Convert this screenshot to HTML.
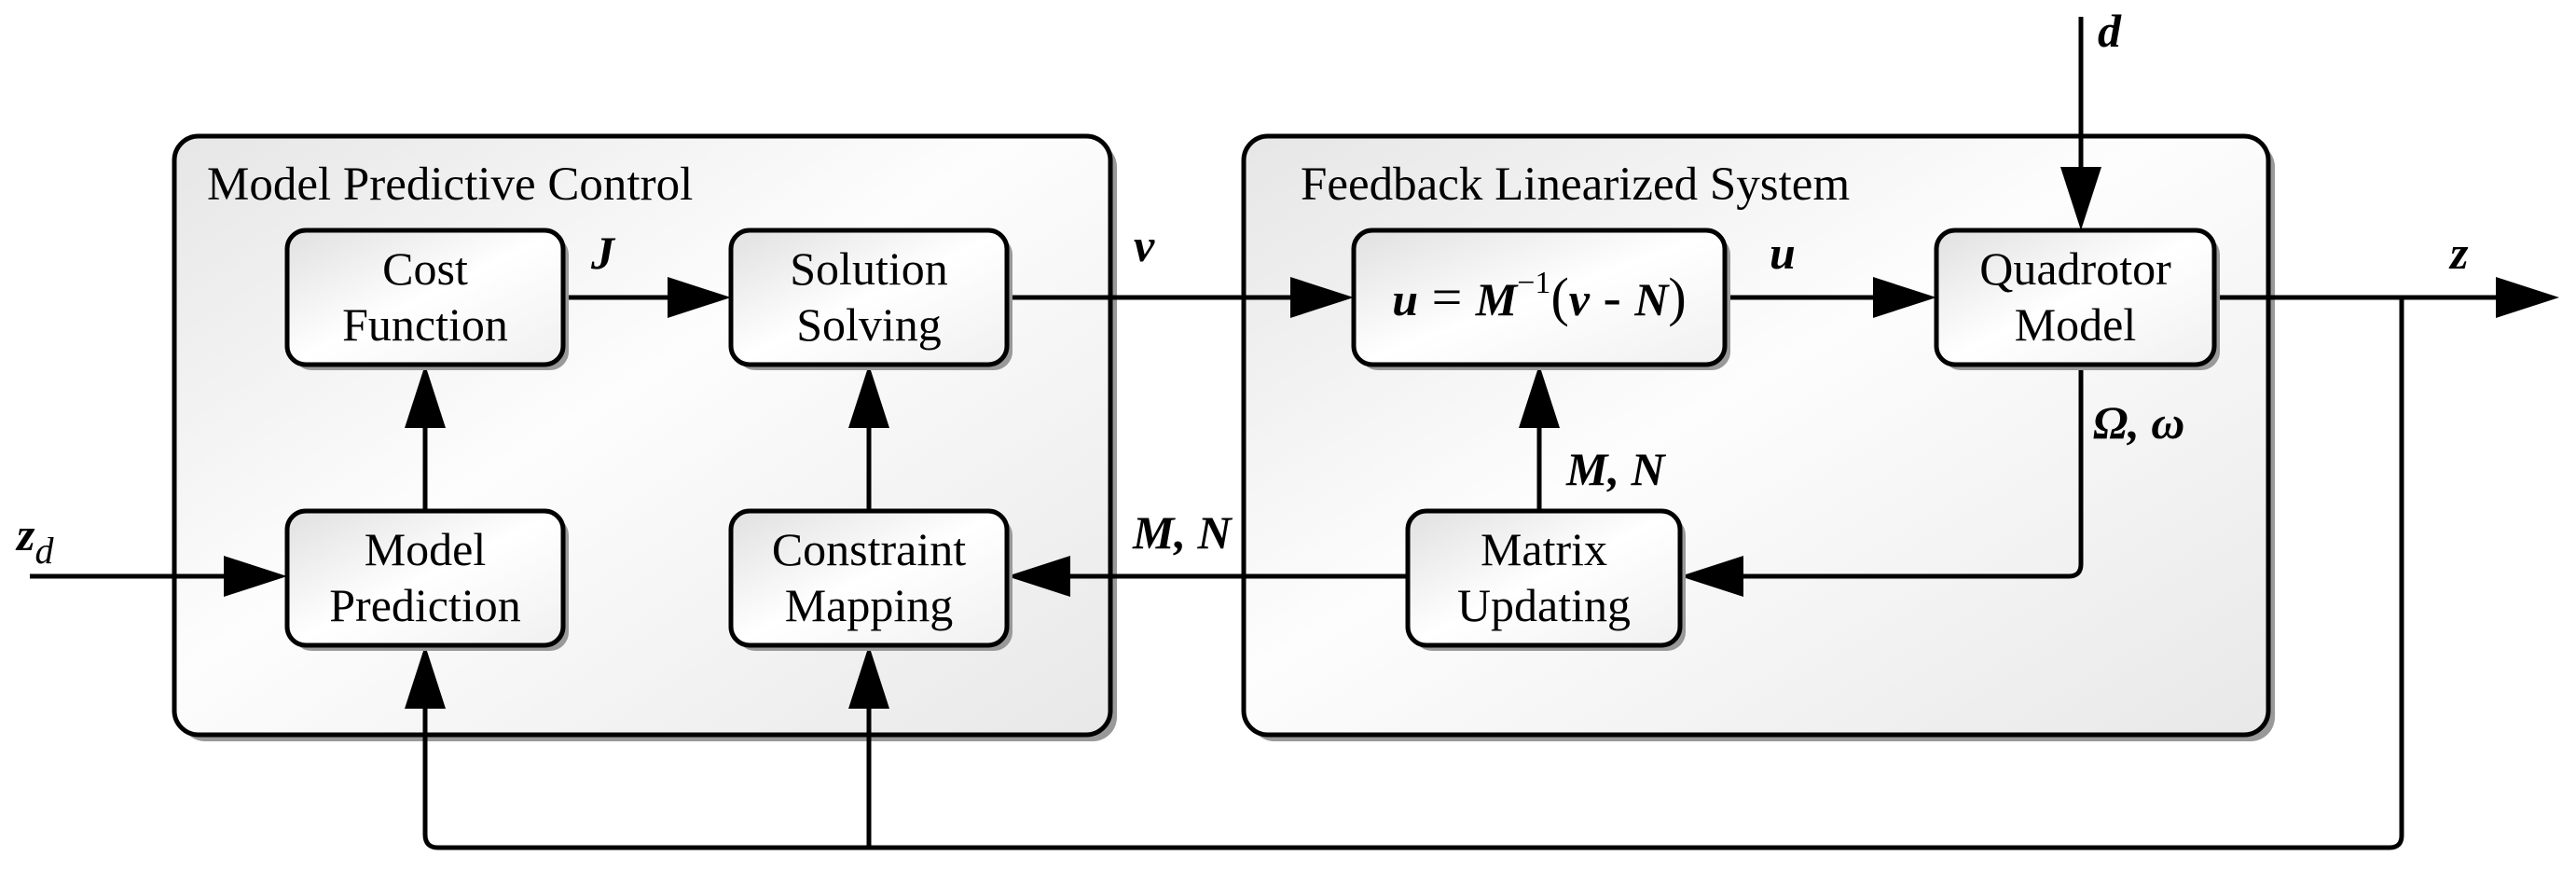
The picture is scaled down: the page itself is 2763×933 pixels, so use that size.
<!DOCTYPE html>
<html><head><meta charset="utf-8"><style>
html,body{margin:0;padding:0;background:#fff;}
svg{display:block;}
text{font-family:"Liberation Serif","DejaVu Serif",serif;fill:#000;}
.b{font-size:50px;text-anchor:middle;}
.m{font-style:italic;font-weight:bold;font-size:50px;}
</style></head><body>
<svg width="2763" height="933" viewBox="0 0 2763 933" xmlns="http://www.w3.org/2000/svg">
<defs>
<linearGradient id="g1" x1="0" y1="0" x2="1" y2="1"><stop offset="0" stop-color="#e6e6e6"/><stop offset="0.45" stop-color="#fdfdfd"/><stop offset="1" stop-color="#e8e8e8"/></linearGradient>
<linearGradient id="g2" x1="0" y1="0" x2="1" y2="1"><stop offset="0" stop-color="#e0e0e0"/><stop offset="0.5" stop-color="#ffffff"/><stop offset="1" stop-color="#f0f0f0"/></linearGradient>
</defs>
<rect x="194" y="153" width="1004" height="642" rx="26" fill="#999"/>
<rect x="187" y="146" width="1004" height="642" rx="26" fill="url(#g1)" stroke="#000" stroke-width="5"/>
<rect x="1341" y="153" width="1099" height="642" rx="26" fill="#999"/>
<rect x="1334" y="146" width="1099" height="642" rx="26" fill="url(#g1)" stroke="#000" stroke-width="5"/>
<text x="222" y="214" font-size="51" font-family="Liberation Serif, serif">Model Predictive Control</text>
<text x="1395" y="214" font-size="51" font-family="Liberation Serif, serif">Feedback Linearized System</text>
<g stroke="#000" stroke-width="5" fill="none">
<line x1="604" y1="319" x2="720" y2="319"/>
<line x1="1080" y1="319" x2="1390" y2="319"/>
<line x1="1850" y1="319" x2="2010" y2="319"/>
<line x1="2375" y1="319" x2="2680" y2="319"/>
<line x1="456" y1="548" x2="456" y2="455"/>
<line x1="932" y1="548" x2="932" y2="455"/>
<line x1="1651" y1="548" x2="1651" y2="455"/>
<line x1="32" y1="618" x2="240" y2="618"/>
<line x1="1510" y1="618" x2="1148" y2="618"/>
<path d="M2232 391 V605 q0 13 -13 13 H1870"/>
<line x1="2232" y1="18" x2="2232" y2="180"/>
<path d="M2576 319 V896 q0 13 -13 13 H470 q-14 0 -14 -14 V760"/>
<line x1="932" y1="909" x2="932" y2="760"/>
</g>
<g fill="#000">
<polygon points="784,319 716,297 716,341"/>
<polygon points="1452,319 1384,297 1384,341"/>
<polygon points="2077,319 2009,297 2009,341"/>
<polygon points="2745,319 2677,297 2677,341"/>
<polygon points="456,391 434,459 478,459"/>
<polygon points="932,391 910,459 954,459"/>
<polygon points="1651,391 1629,459 1673,459"/>
<polygon points="308,618 240,596 240,640"/>
<polygon points="1080,618 1148,596 1148,640"/>
<polygon points="1802,618 1870,596 1870,640"/>
<polygon points="2232,247 2210,179 2254,179"/>
<polygon points="456,692 434,760 478,760"/>
<polygon points="932,692 910,760 954,760"/>
</g>
<g stroke="#000" stroke-width="5" fill="url(#g2)">
<rect x="314" y="253" width="296" height="144" rx="20" fill="#999" stroke="none"/>
<rect x="308" y="247" width="296" height="144" rx="20"/>
<rect x="790" y="253" width="296" height="144" rx="20" fill="#999" stroke="none"/>
<rect x="784" y="247" width="296" height="144" rx="20"/>
<rect x="314" y="554" width="296" height="144" rx="20" fill="#999" stroke="none"/>
<rect x="308" y="548" width="296" height="144" rx="20"/>
<rect x="790" y="554" width="296" height="144" rx="20" fill="#999" stroke="none"/>
<rect x="784" y="548" width="296" height="144" rx="20"/>
<rect x="1458" y="253" width="398" height="144" rx="20" fill="#999" stroke="none"/>
<rect x="1452" y="247" width="398" height="144" rx="20"/>
<rect x="2083" y="253" width="298" height="144" rx="20" fill="#999" stroke="none"/>
<rect x="2077" y="247" width="298" height="144" rx="20"/>
<rect x="1516" y="554" width="292" height="144" rx="20" fill="#999" stroke="none"/>
<rect x="1510" y="548" width="292" height="144" rx="20"/>
</g>
<g font-family="Liberation Serif, serif">
<text class="b" x="456" y="305">Cost</text><text class="b" x="456" y="365">Function</text>
<text class="b" x="932" y="305">Solution</text><text class="b" x="932" y="365">Solving</text>
<text class="b" x="456" y="606">Model</text><text class="b" x="456" y="666">Prediction</text>
<text class="b" x="932" y="606">Constraint</text><text class="b" x="932" y="666">Mapping</text>
<text class="b" x="2226" y="305">Quadrotor</text><text class="b" x="2226" y="365">Model</text>
<text class="b" x="1656" y="606">Matrix</text><text class="b" x="1656" y="666">Updating</text>
<text x="1651" y="338" font-size="58" text-anchor="middle"><tspan class="m" font-size="58">u</tspan> = <tspan class="m" font-size="58">M</tspan><tspan font-size="34" dy="-24">−1</tspan><tspan dy="24">(</tspan><tspan class="m" font-size="58">v</tspan> - <tspan class="m" font-size="58">N</tspan>)</text>
<text class="m" x="634" y="288">J</text>
<text class="m" x="1216" y="280">v</text>
<text class="m" x="1898" y="288">u</text>
<text class="m" x="2628" y="288" font-size="56">z</text>
<text class="m" x="2250" y="50">d</text>
<text class="m" x="2245" y="470">Ω, ω</text>
<text class="m" x="1680" y="520">M, N</text>
<text class="m" x="1215" y="588">M, N</text>
<text class="m" x="18" y="590" font-size="58">z<tspan font-size="40" font-weight="normal" dy="14">d</tspan></text>
</g>
</svg>
</body></html>
